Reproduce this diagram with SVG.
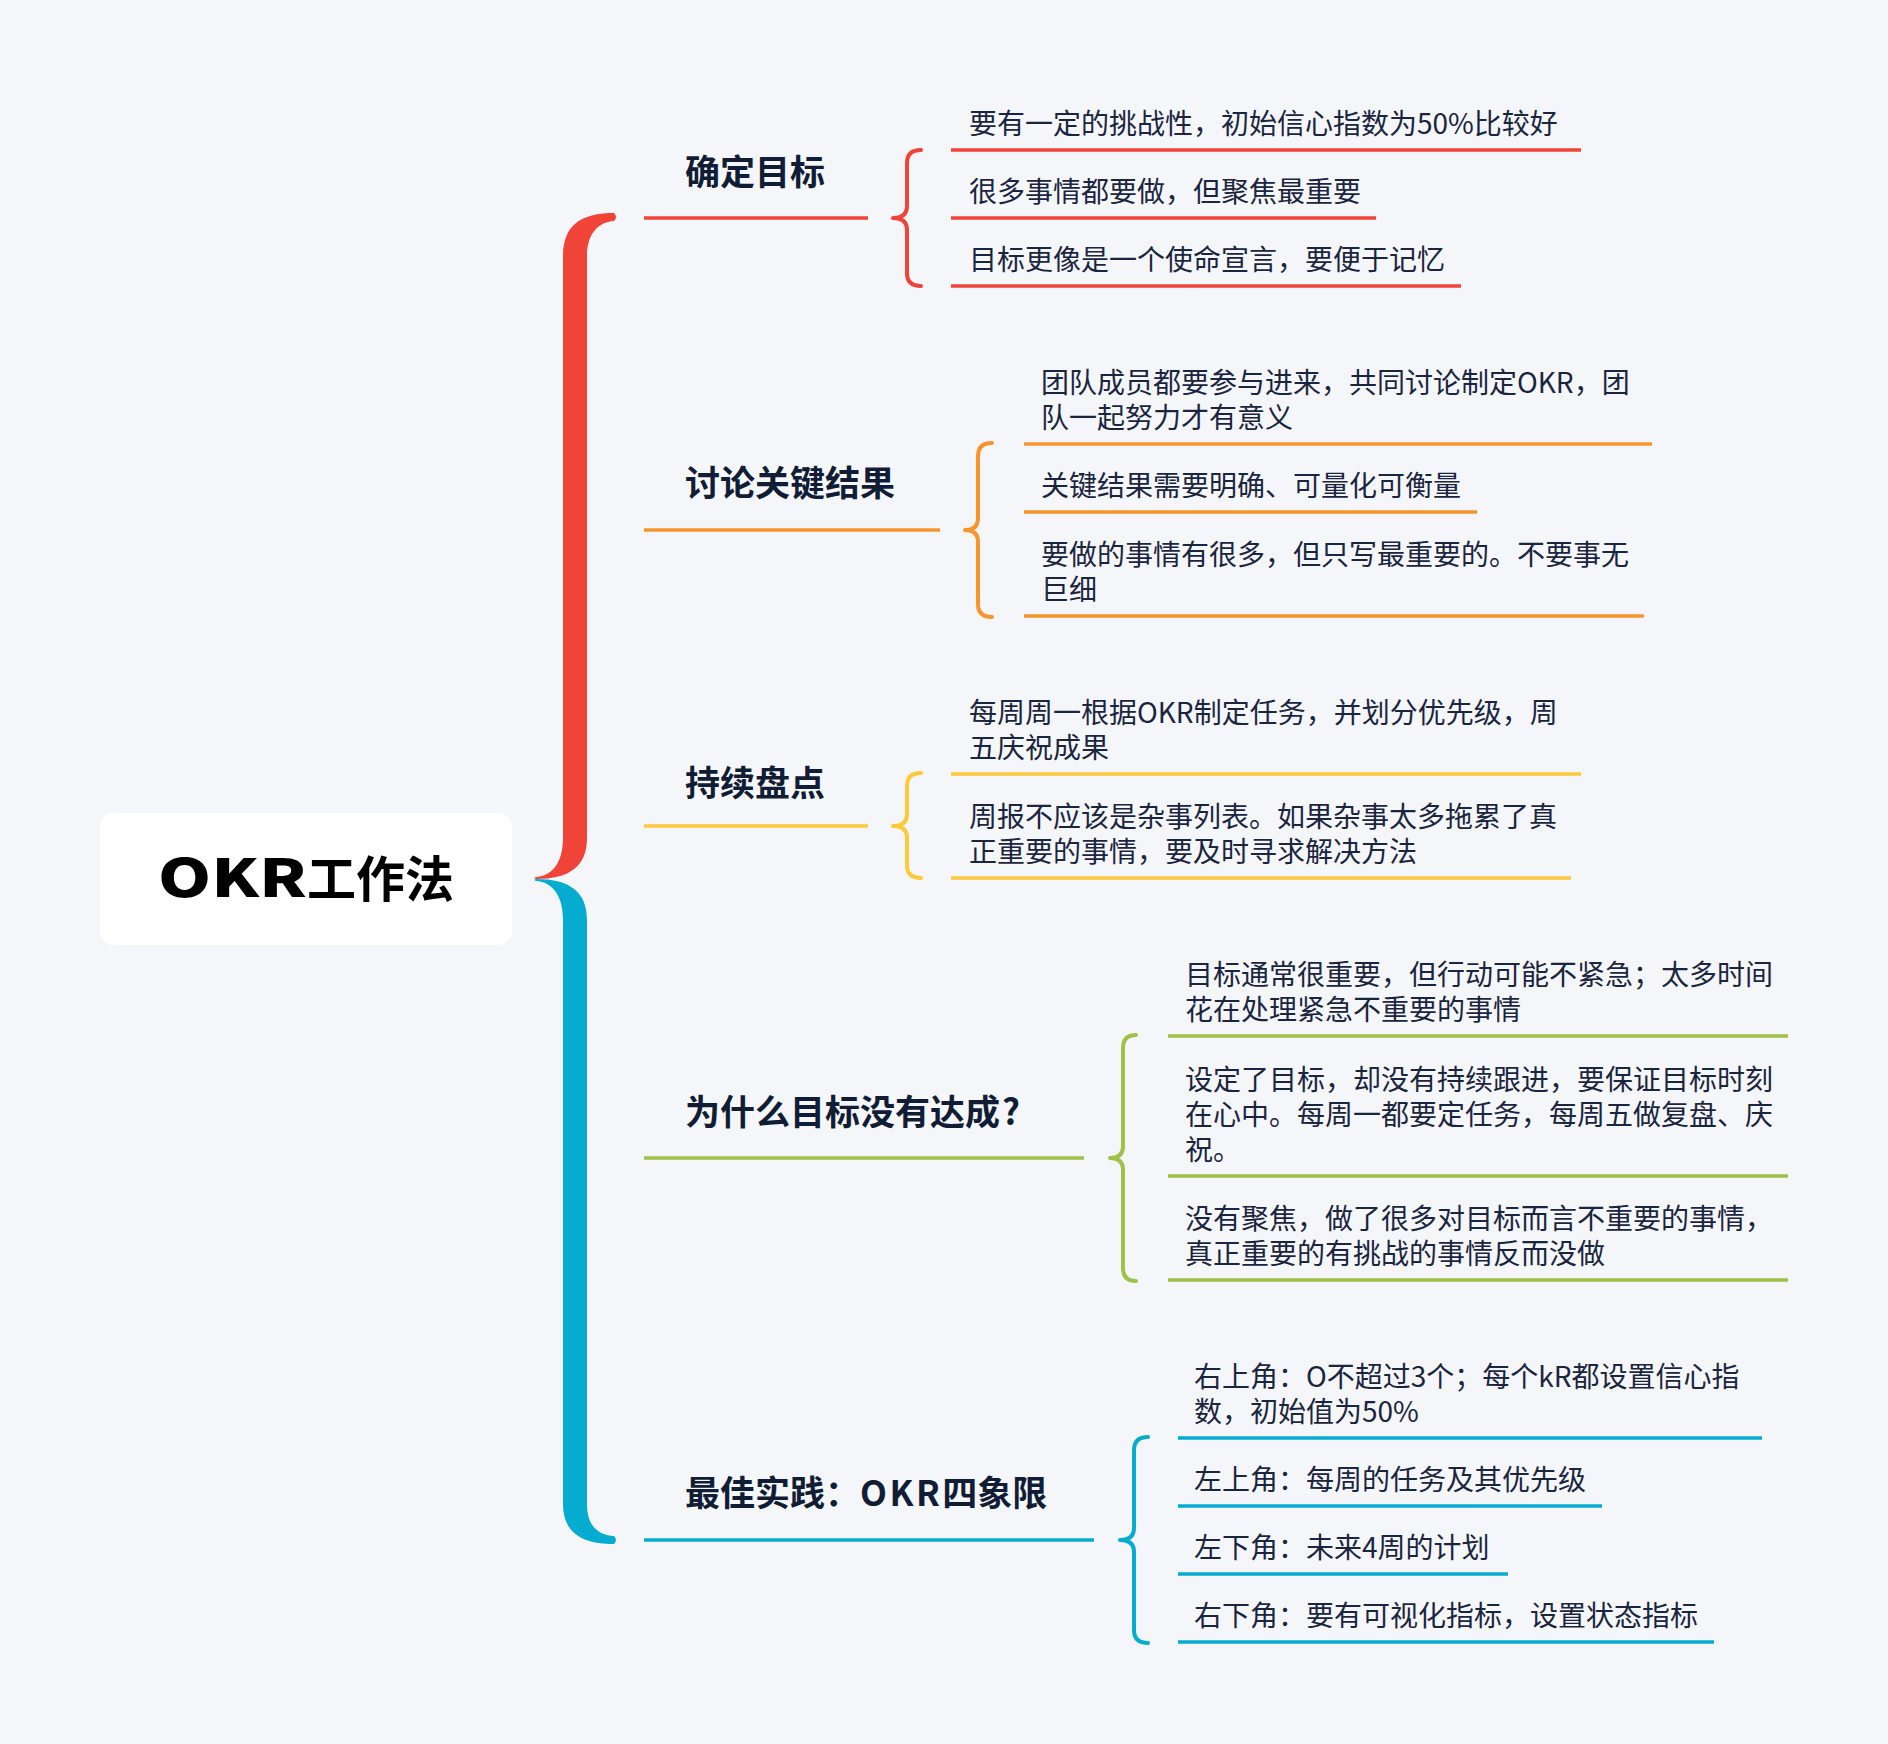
<svg xmlns="http://www.w3.org/2000/svg" width="1888" height="1744" viewBox="0 0 1888 1744">
<style>
.bg{fill:#F5F6F9}
.t1{font-family:"Noto Sans CJK SC","Noto Sans",sans-serif;font-size:35px;font-weight:700;fill:#111D35}
.t2{font-family:"Noto Sans CJK SC","Noto Sans",sans-serif;font-size:28px;font-weight:400;fill:#1A2540}
.ul{fill:none;stroke-width:3.5;stroke-linecap:butt}
.br{fill:none;stroke-width:4;stroke-linecap:round;stroke-linejoin:round}
.red{stroke:#EF4437}.org{stroke:#F8942E}.yel{stroke:#FFC93C}.grn{stroke:#9EC246}.blu{stroke:#06ACD0}
</style>
<rect class="bg" x="0" y="0" width="1888" height="1744"/>
<g id="connectors">
  <path d="M536 879 C570 879 587 866 587 838 L587 256 C587 234 598 222 614 221 Q618 217 614 213 C585 213 563 222 563 256 L563 838 C563 863 552 876 536 877 Q533 878 536 879 Z" fill="#EF4437"/>
  <path d="M536 879 C570 879 587 892 587 920 L587 1504 C587 1526 598 1535 614 1536 Q618 1540 614 1544 C585 1544 563 1535 563 1504 L563 920 C563 895 552 882 536 881 Q533 880 536 879 Z" fill="#06ACD0"/>
  <path class="br red" d="M921 150 Q907 150 907 163 L907 206 Q907 218 893 218 Q907 218 907 230 L907 273 Q907 286 921 286"/>
  <path class="br org" d="M992 443 Q978 443 978 456 L978 518 Q978 530 965 530 Q978 530 978 542 L978 604 Q978 617 992 617"/>
  <path class="br yel" d="M921 773 Q907 773 907 786 L907 814 Q907 826 893 826 Q907 826 907 838 L907 865 Q907 878 921 878"/>
  <path class="br grn" d="M1136 1035 Q1123 1035 1123 1048 L1123 1146 Q1123 1158 1110 1158 Q1123 1158 1123 1170 L1123 1268 Q1123 1281 1136 1281"/>
  <path class="br blu" d="M1148 1437 Q1134 1437 1134 1450 L1134 1528 Q1134 1540 1120 1540 Q1134 1540 1134 1552 L1134 1630 Q1134 1643 1148 1643"/>
</g>
<g id="root">
  <rect x="100" y="813" width="412" height="132" rx="14" fill="#FFFFFF"/>
  <text y="897" font-family="'Noto Sans CJK SC',sans-serif" fill="#000000" font-weight="900"><tspan x="158" font-size="52" textLength="149" lengthAdjust="spacingAndGlyphs">OKR</tspan><tspan x="307" font-size="49" font-weight="700">工作法</tspan></text>
</g>
<g id="n1">
  <text class="t1" x="685" y="185">确定目标</text>
  <line class="ul red" x1="644" y1="218" x2="868" y2="218"/>
</g>
<g id="n1a"><text class="t2" x="969" y="133.5">要有一定的挑战性，初始信心指数为50%比较好</text><line class="ul red" x1="951" y1="150" x2="1581" y2="150"/></g>
<g id="n1b"><text class="t2" x="969" y="201.5">很多事情都要做，但聚焦最重要</text><line class="ul red" x1="951" y1="218" x2="1376" y2="218"/></g>
<g id="n1c"><text class="t2" x="969" y="269.5">目标更像是一个使命宣言，要便于记忆</text><line class="ul red" x1="951" y1="286" x2="1461" y2="286"/></g>
<g id="n2">
  <text class="t1" x="685" y="496">讨论关键结果</text>
  <line class="ul org" x1="644" y1="530" x2="940" y2="530"/>
</g>
<g id="n2a"><text class="t2" y="392.5"><tspan x="1041">团队成员都要参与进来，共同讨论制定OKR，团</tspan><tspan x="1041" dy="35">队一起努力才有意义</tspan></text><line class="ul org" x1="1024" y1="444" x2="1652" y2="444"/></g>
<g id="n2b"><text class="t2" x="1041" y="495.5">关键结果需要明确、可量化可衡量</text><line class="ul org" x1="1024" y1="512" x2="1477" y2="512"/></g>
<g id="n2c"><text class="t2" y="564.5"><tspan x="1041">要做的事情有很多，但只写最重要的。不要事无</tspan><tspan x="1041" dy="35">巨细</tspan></text><line class="ul org" x1="1024" y1="616" x2="1644" y2="616"/></g>
<g id="n3">
  <text class="t1" x="685" y="796">持续盘点</text>
  <line class="ul yel" x1="644" y1="826" x2="868" y2="826"/>
</g>
<g id="n3a"><text class="t2" y="722.5"><tspan x="969">每周周一根据OKR制定任务，并划分优先级，周</tspan><tspan x="969" dy="35">五庆祝成果</tspan></text><line class="ul yel" x1="951" y1="774" x2="1581" y2="774"/></g>
<g id="n3b"><text class="t2" y="826.5"><tspan x="969">周报不应该是杂事列表。如果杂事太多拖累了真</tspan><tspan x="969" dy="35">正重要的事情，要及时寻求解决方法</tspan></text><line class="ul yel" x1="951" y1="878" x2="1571" y2="878"/></g>
<g id="n4">
  <text class="t1" x="685" y="1125">为什么目标没有达成<tspan dx="2">?</tspan></text>
  <line class="ul grn" x1="644" y1="1158" x2="1084" y2="1158"/>
</g>
<g id="n4a"><text class="t2" y="984.5"><tspan x="1185">目标通常很重要，但行动可能不紧急；太多时间</tspan><tspan x="1185" dy="35">花在处理紧急不重要的事情</tspan></text><line class="ul grn" x1="1168" y1="1036" x2="1788" y2="1036"/></g>
<g id="n4b"><text class="t2" y="1089.5"><tspan x="1185">设定了目标，却没有持续跟进，要保证目标时刻</tspan><tspan x="1185" dy="35">在心中。每周一都要定任务，每周五做复盘、庆</tspan><tspan x="1185" dy="35">祝。</tspan></text><line class="ul grn" x1="1168" y1="1176" x2="1788" y2="1176"/></g>
<g id="n4c"><text class="t2" y="1228.5"><tspan x="1185">没有聚焦，做了很多对目标而言不重要的事情，</tspan><tspan x="1185" dy="35">真正重要的有挑战的事情反而没做</tspan></text><line class="ul grn" x1="1168" y1="1280" x2="1788" y2="1280"/></g>
<g id="n5">
  <text class="t1" x="685" y="1506">最佳实践：<tspan letter-spacing="2.5">OKR</tspan>四象限</text>
  <line class="ul blu" x1="644" y1="1540" x2="1094" y2="1540"/>
</g>
<g id="n5a"><text class="t2" y="1386.5"><tspan x="1194">右上角：O不超过3个；每个kR都设置信心指</tspan><tspan x="1194" dy="35">数，初始值为50%</tspan></text><line class="ul blu" x1="1178" y1="1438" x2="1762" y2="1438"/></g>
<g id="n5b"><text class="t2" x="1194" y="1489.5">左上角：每周的任务及其优先级</text><line class="ul blu" x1="1178" y1="1506" x2="1602" y2="1506"/></g>
<g id="n5c"><text class="t2" x="1194" y="1557.5">左下角：未来4周的计划</text><line class="ul blu" x1="1178" y1="1574" x2="1508" y2="1574"/></g>
<g id="n5d"><text class="t2" x="1194" y="1625.5">右下角：要有可视化指标，设置状态指标</text><line class="ul blu" x1="1178" y1="1642" x2="1714" y2="1642"/></g>
</svg>
